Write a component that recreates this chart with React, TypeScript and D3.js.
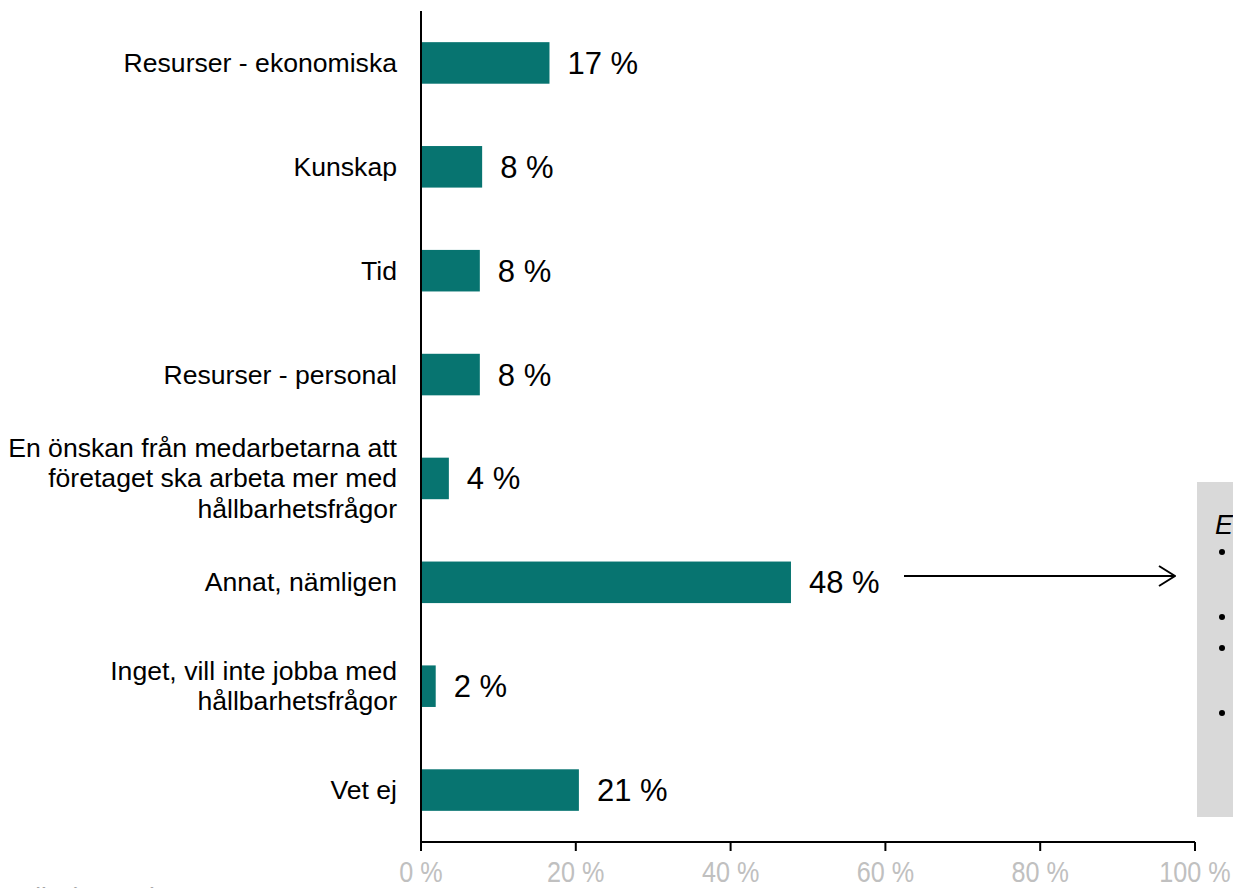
import React from "react";
import * as d3 from "d3";

const categories: string[][] = [
  ["Resurser - ekonomiska"],
  ["Kunskap"],
  ["Tid"],
  ["Resurser - personal"],
  ["En önskan från medarbetarna att", "företaget ska arbeta mer med", "hållbarhetsfrågor"],
  ["Annat, nämligen"],
  ["Inget, vill inte jobba med", "hållbarhetsfrågor"],
  ["Vet ej"],
];
const values = [16.6, 7.9, 7.6, 7.6, 3.6, 47.8, 1.9, 20.4];
const labels = ["17 %", "8 %", "8 %", "8 %", "4 %", "48 %", "2 %", "21 %"];
const ticks = [0, 20, 40, 60, 80, 100];
const boxTitle = "E";
const boxBullets = ["", "", "", ""];
const footnote = "Alla (n=406)";

const W = 1233, H = 888;
const FONT = "Arial, 'Liberation Sans', sans-serif";

export default function App() {
  const x = d3.scaleLinear().domain([0, 100]).range([421, 1195]);
  const y = d3.scaleBand<number>().domain(d3.range(categories.length)).range([11, 842]).paddingInner(0.6).paddingOuter(0.3);
  const bulletY = [552, 617, 648, 713];
  return (
    <svg width={W} height={H} style={{ position: "absolute", left: 0, top: 0 }} fontFamily={FONT}>
      <defs>
        <marker id="arr" viewBox="0 0 18 22" refX="17" refY="11" markerWidth="18" markerHeight="22" markerUnits="userSpaceOnUse" orient="auto">
          <path d="M1,1 L17,11 L1,21" fill="none" stroke="#000" strokeWidth={2} />
        </marker>
      </defs>
      {/* grey box */}
      <rect x={1197} y={482} width={60} height={335} fill="#d9d9d9" />
      <text x={1215} y={534} fontSize={27} fontStyle="italic" fill="#000">{boxTitle}</text>
      {boxBullets.map((b, i) => (
        <g key={i}>
          <circle cx={1222} cy={bulletY[i]} r={3} fill="#000" />
          {b ? <text x={1234} y={bulletY[i] + 8} fontSize={24}>{b}</text> : null}
        </g>
      ))}
      {/* bars */}
      {values.map((v, i) => {
        const by = y(i)!;
        const bh = y.bandwidth();
        return (
          <g key={i}>
            <rect x={x(0)} y={by} width={x(v) - x(0)} height={bh} fill="#077470" />
            <text x={x(v) + 18} y={by + bh / 2 + 11} fontSize={31} fill="#000">{labels[i]}</text>
            <text textAnchor="end" fontSize={26.6} fill="#000">
              {categories[i].map((line, j) => (
                <tspan key={j} x={397} y={by + bh / 2 + 9 + (j - (categories[i].length - 1) / 2) * 30.5}>{line}</tspan>
              ))}
            </text>
          </g>
        );
      })}
      {/* axes */}
      <line x1={x(0)} x2={x(0)} y1={11} y2={851} stroke="#000" strokeWidth={2} />
      <line x1={x(0)} x2={x(100)} y1={842} y2={842} stroke="#000" strokeWidth={2} />
      {ticks.map((t) => (
        <g key={t}>
          <line x1={x(t)} x2={x(t)} y1={842} y2={851} stroke="#000" strokeWidth={2} />
          <text x={x(t)} y={882} textAnchor="middle" fontSize={30} fill="#c0c0c0" transform={`translate(${x(t)},0) scale(0.84,1) translate(${-x(t)},0)`}>{t} %</text>
        </g>
      ))}
      {/* arrow */}
      <line x1={904} x2={1175} y1={576} y2={576} stroke="#000" strokeWidth={2} markerEnd="url(#arr)" />
      <text x={18} y={906} fontSize={26} fill="#a6a6a6">{footnote}</text>
    </svg>
  );
}
